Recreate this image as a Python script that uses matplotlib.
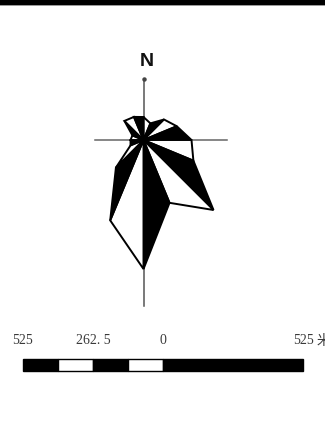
import numpy as np
import matplotlib
matplotlib.use("Agg")
import matplotlib.pyplot as plt
from matplotlib.patches import Polygon, Rectangle

# ---- data ----
directions = ["N", "NNE", "NE", "ENE", "E", "ESE", "SE", "SSE",
              "S", "SSW", "SW", "WSW", "W", "WNW", "NW", "NNW"]
frequency = [2.3, 1.8, 2.9, 3.6, 4.8, 5.4, 9.9, 6.8,
             12.9, 8.7, 3.9, 1.4, 1.3, 1.2, 2.7, 2.5]
scale_ticks = [-525, -262.5, 0, 525]
scale_labels = ["525", "262. 5", "0", "525"]
scale_edges = [-525, -393.75, -262.5, -131.25, 0, 525]
scale_colors = ["black", "white", "black", "white", "black"]

W, H = 325, 427
fig = plt.figure(figsize=(W / 100, H / 100), dpi=100)
fig.patch.set_facecolor("white")

# top black band
fig.patches.append(Rectangle((0, 1 - 5.5 / H), 1, 5.5 / H, transform=fig.transFigure,
                             facecolor="black", edgecolor="none"))
fig.patches.append(Rectangle((0, 1 - 7 / H), 1, 1.5 / H, transform=fig.transFigure,
                             facecolor="#9a9a9a", edgecolor="none"))

# ---- rose axes (10 px per unit), centre at pixel (143.5, 141) ----
cx, cy = 143.5, 141
xl, xr, yb, yt = -5, 9, -17, 8
ax = fig.add_axes([(cx + xl * 10) / W, (H - (cy - yb * 10)) / H,
                   (xr - xl) * 10 / W, (yt - yb) * 10 / H])
ax.set_xlim(xl, xr)
ax.set_ylim(yb, yt)
ax.axis("off")

# cross lines
ax.plot([0, 0], [6.1, -16.6], color="#555555", lw=1.1, zorder=1)
ax.plot([-4.85, 8.35], [0, 0], color="#666666", lw=1.1, zorder=1)
ax.plot([0], [6.1], marker="o", ms=2.2, color="#444444", zorder=1)

theta = np.deg2rad(np.arange(16) * 22.5)
r = np.array(frequency)
xs = r * np.sin(theta)
ys = r * np.cos(theta)
n = len(r)
for k in range(n):
    j = (k + 1) % n
    fc = "black" if k % 2 == 1 else "white"
    poly = Polygon([(0, 0), (xs[k], ys[k]), (xs[j], ys[j])], closed=True,
                   facecolor=fc, edgecolor="black", lw=1.4, joinstyle="miter", zorder=3)
    ax.add_patch(poly)

fig.text(147 / W, 1 - 62 / H, "N", ha="center", va="center", fontsize=14,
         fontweight="bold", family="Liberation Sans", color="#111111")

# ---- scale bar ----
bx0, bx1 = 22.7, 303.3
by0, by1 = 360, 372
sax = fig.add_axes([bx0 / W, (H - by1) / H, (bx1 - bx0) / W, (by1 - by0) / H])
sax.set_xlim(scale_edges[0], scale_edges[-1])
sax.set_ylim(0, 1)
sax.axis("off")
for a, b, c in zip(scale_edges[:-1], scale_edges[1:], scale_colors):
    sax.add_patch(Rectangle((a, 0), b - a, 1, facecolor=c, edgecolor="black",
                            lw=1.0, clip_on=False))
for t, lab in zip(scale_ticks, scale_labels):
    sax.text(t, 2.6, lab, ha="center", va="center", fontsize=10,
             family="Liberation Serif", color="#3a3a3a", clip_on=False)
sax.text(scale_ticks[-1] + 50, 2.6, "米", ha="left", va="center", fontsize=10,
         family=["Noto Sans CJK SC", "DejaVu Sans"], color="#3a3a3a", clip_on=False)

fig.savefig("out.png", dpi=100, facecolor="white")
